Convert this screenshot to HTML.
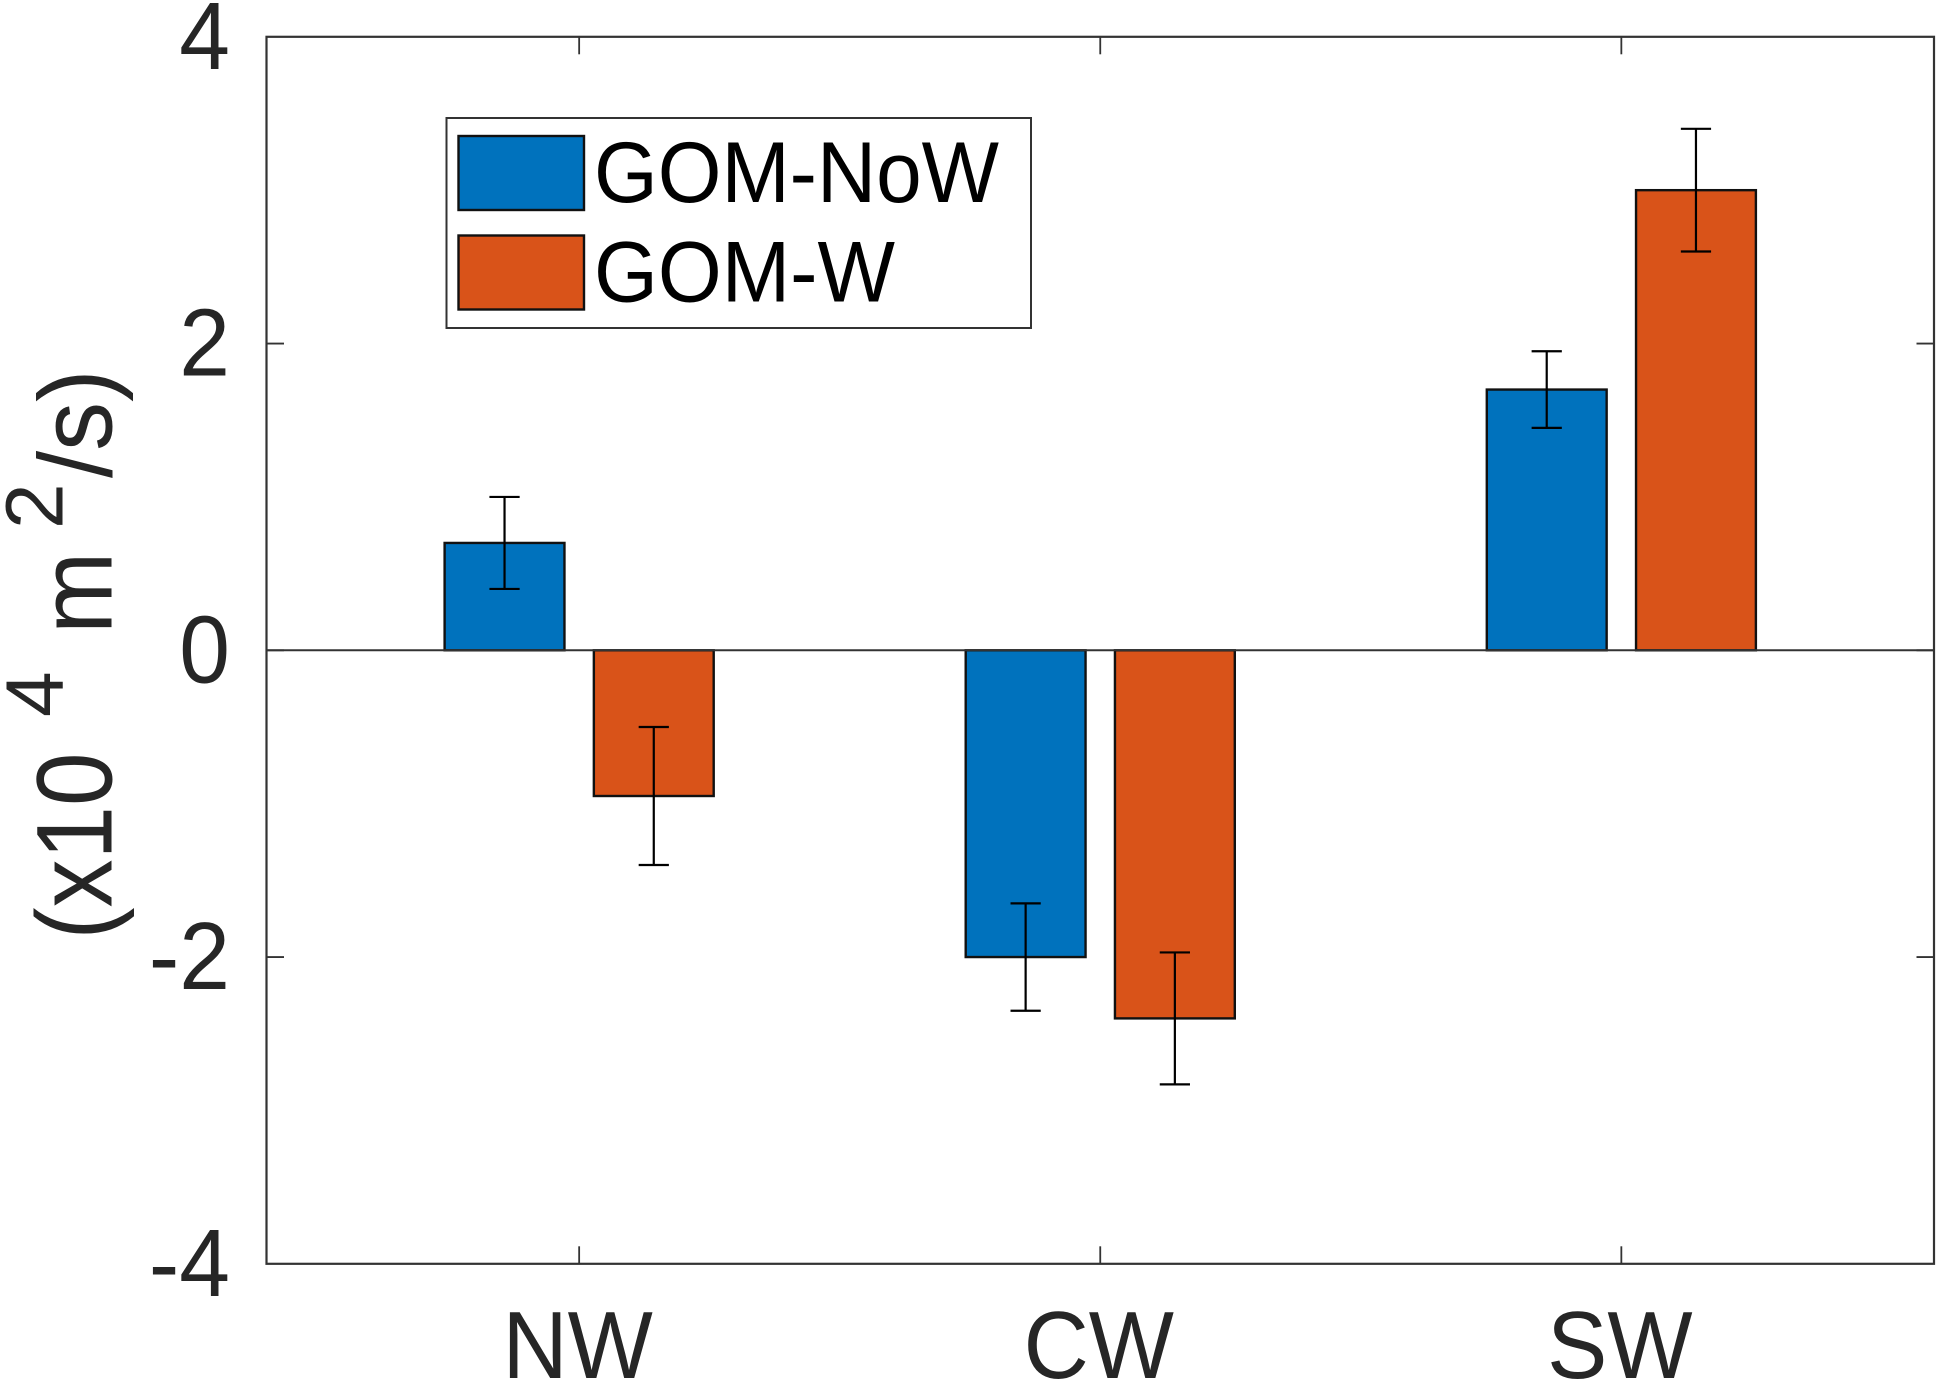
<!DOCTYPE html>
<html lang="en">
<head>
<meta charset="utf-8">
<title>Bar chart</title>
<style>
html,body{margin:0;padding:0;background:#fff;}
svg{display:block;}
text{font-family:"Liberation Sans",Arial,sans-serif;}
</style>
</head>
<body>
<svg id="chart" xmlns="http://www.w3.org/2000/svg" width="1939" height="1382" viewBox="0 0 1939 1382">
  <rect x="0" y="0" width="1939" height="1382" fill="#ffffff"/>
  <g id="bars"></g>
  <g id="axes"></g>
  <g id="errors"></g>
  <g fill="#262626">
    <text transform="translate(111.5,939.5) rotate(-90) scale(0.89,1)" font-size="108">(x10</text>
    <text transform="translate(62.5,717) rotate(-90)" font-size="82">4</text>
    <text transform="translate(111.5,634) rotate(-90) scale(0.95,1)" font-size="104">m</text>
    <text transform="translate(62.5,529) rotate(-90)" font-size="82">2</text>
    <text transform="translate(111.5,478) rotate(-90) scale(0.94,1)" font-size="104">/s)</text>
  </g>
  <g>
    <rect x="446.5" y="118" width="584.5" height="210" fill="#ffffff" stroke="#333333" stroke-width="2"/>
    <rect x="458.5" y="136" width="125.5" height="74" fill="#0072bd" stroke="#111111" stroke-width="2.4"/>
    <text x="594" y="202" font-size="86" textLength="405" lengthAdjust="spacingAndGlyphs" fill="#000000">GOM-NoW</text>
    <rect x="458.5" y="235.5" width="125.5" height="74" fill="#d95319" stroke="#111111" stroke-width="2.4"/>
    <text x="594" y="301.5" font-size="86" textLength="301" lengthAdjust="spacingAndGlyphs" fill="#000000">GOM-W</text>
  </g>
</svg>
<script>
const categories = ["NW", "CW", "SW"];
const yTickValues = [-4, -2, 0, 2, 4];
const yTickLabels = ["-4", "-2", "0", "2", "4"];
const seriesNames = ["GOM-NoW", "GOM-W"];
const gomNoWValues = [0.7, -2.0, 1.7];
const gomWValues = [-0.95, -2.4, 3.0];
const gomNoWErrLow = [0.4, -2.35, 1.45];
const gomNoWErrHigh = [1.0, -1.65, 1.95];
const gomWErrLow = [-1.4, -2.83, 2.6];
const gomWErrHigh = [-0.5, -1.97, 3.4];

const NS = "http://www.w3.org/2000/svg";
const plot = { left: 266.5, right: 1934, top: 36.8, bottom: 1263.8 };
const xDomain = [0.4, 3.6];
const yDomain = [-4, 4];
const barWidth = 0.23;
const barOffset = 0.1432;
const capHalf = 0.029;
const tickLen = 17.5;
const axisColor = "#333333";

function xScale(v) {
  return plot.left + (v - xDomain[0]) / (xDomain[1] - xDomain[0]) * (plot.right - plot.left);
}
function yScale(v) {
  return plot.bottom - (v - yDomain[0]) / (yDomain[1] - yDomain[0]) * (plot.bottom - plot.top);
}
function mk(tag, parent, props) {
  const el = document.createElementNS(NS, tag);
  for (const k in props) el.setAttribute(k, props[k]);
  parent.appendChild(el);
  return el;
}
function slug(s) {
  return s.toLowerCase();
}

const barsG = document.getElementById("bars");
const axesG = document.getElementById("axes");
const errorsG = document.getElementById("errors");

const seriesDefs = [
  { name: seriesNames[0], values: gomNoWValues, low: gomNoWErrLow, high: gomNoWErrHigh, color: "#0072bd", off: -barOffset },
  { name: seriesNames[1], values: gomWValues, low: gomWErrLow, high: gomWErrHigh, color: "#d95319", off: barOffset }
];

seriesDefs.forEach(function (s) {
  categories.forEach(function (c, i) {
    const cx = i + 1 + s.off;
    const x0 = xScale(cx - barWidth / 2);
    const x1 = xScale(cx + barWidth / 2);
    const y0 = yScale(0);
    const yv = yScale(s.values[i]);
    const bar = mk("rect", barsG, {
      x: x0, y: Math.min(y0, yv), width: x1 - x0, height: Math.abs(yv - y0),
      fill: s.color, stroke: "#111111", "stroke-width": 2.4
    });
    
    

    const g = mk("g", errorsG, { stroke: "#000000", "stroke-width": 2.2, fill: "none" });
    
    
    const xc = xScale(cx);
    const yl = yScale(s.low[i]);
    const yh = yScale(s.high[i]);
    mk("line", g, { x1: xc, x2: xc, y1: yl, y2: yh });
    mk("line", g, { x1: xScale(cx - capHalf), x2: xScale(cx + capHalf), y1: yl, y2: yl });
    mk("line", g, { x1: xScale(cx - capHalf), x2: xScale(cx + capHalf), y1: yh, y2: yh });
  });
});

const frame = mk("rect", axesG, {
  x: plot.left, y: plot.top, width: plot.right - plot.left, height: plot.bottom - plot.top,
  fill: "none", stroke: axisColor, "stroke-width": 2.2
});



const baseline = mk("line", axesG, {
  x1: plot.left, x2: plot.right, y1: yScale(0), y2: yScale(0), stroke: axisColor, "stroke-width": 2
});



categories.forEach(function (c, i) {
  const x = xScale(i + 1);
  const t1 = mk("line", axesG, { x1: x, x2: x, y1: plot.bottom, y2: plot.bottom - tickLen, stroke: axisColor, "stroke-width": 1.8 });
  
  
  const t2 = mk("line", axesG, { x1: x, x2: x, y1: plot.top, y2: plot.top + tickLen, stroke: axisColor, "stroke-width": 1.8 });
  
  
  const lab = mk("text", axesG, { transform: "translate(" + (x - 1.5) + ",1378) scale(0.94,1)", "text-anchor": "middle", "font-size": 96, fill: "#262626" });
  
  
  lab.textContent = c;
});

yTickValues.forEach(function (v, i) {
  const y = yScale(v);
  if (i > 0 && i < yTickValues.length - 1) {
    const t1 = mk("line", axesG, { x1: plot.left, x2: plot.left + tickLen, y1: y, y2: y, stroke: axisColor, "stroke-width": 1.8 });
    
    
    const t2 = mk("line", axesG, { x1: plot.right, x2: plot.right - tickLen, y1: y, y2: y, stroke: axisColor, "stroke-width": 1.8 });
    
    
  }
  const lab = mk("text", axesG, { transform: "translate(230," + (y + 32) + ") scale(0.95,1)", "text-anchor": "end", "font-size": 96, fill: "#262626" });
  
  
  lab.textContent = yTickLabels[i];
});
</script>
</body>
</html>
